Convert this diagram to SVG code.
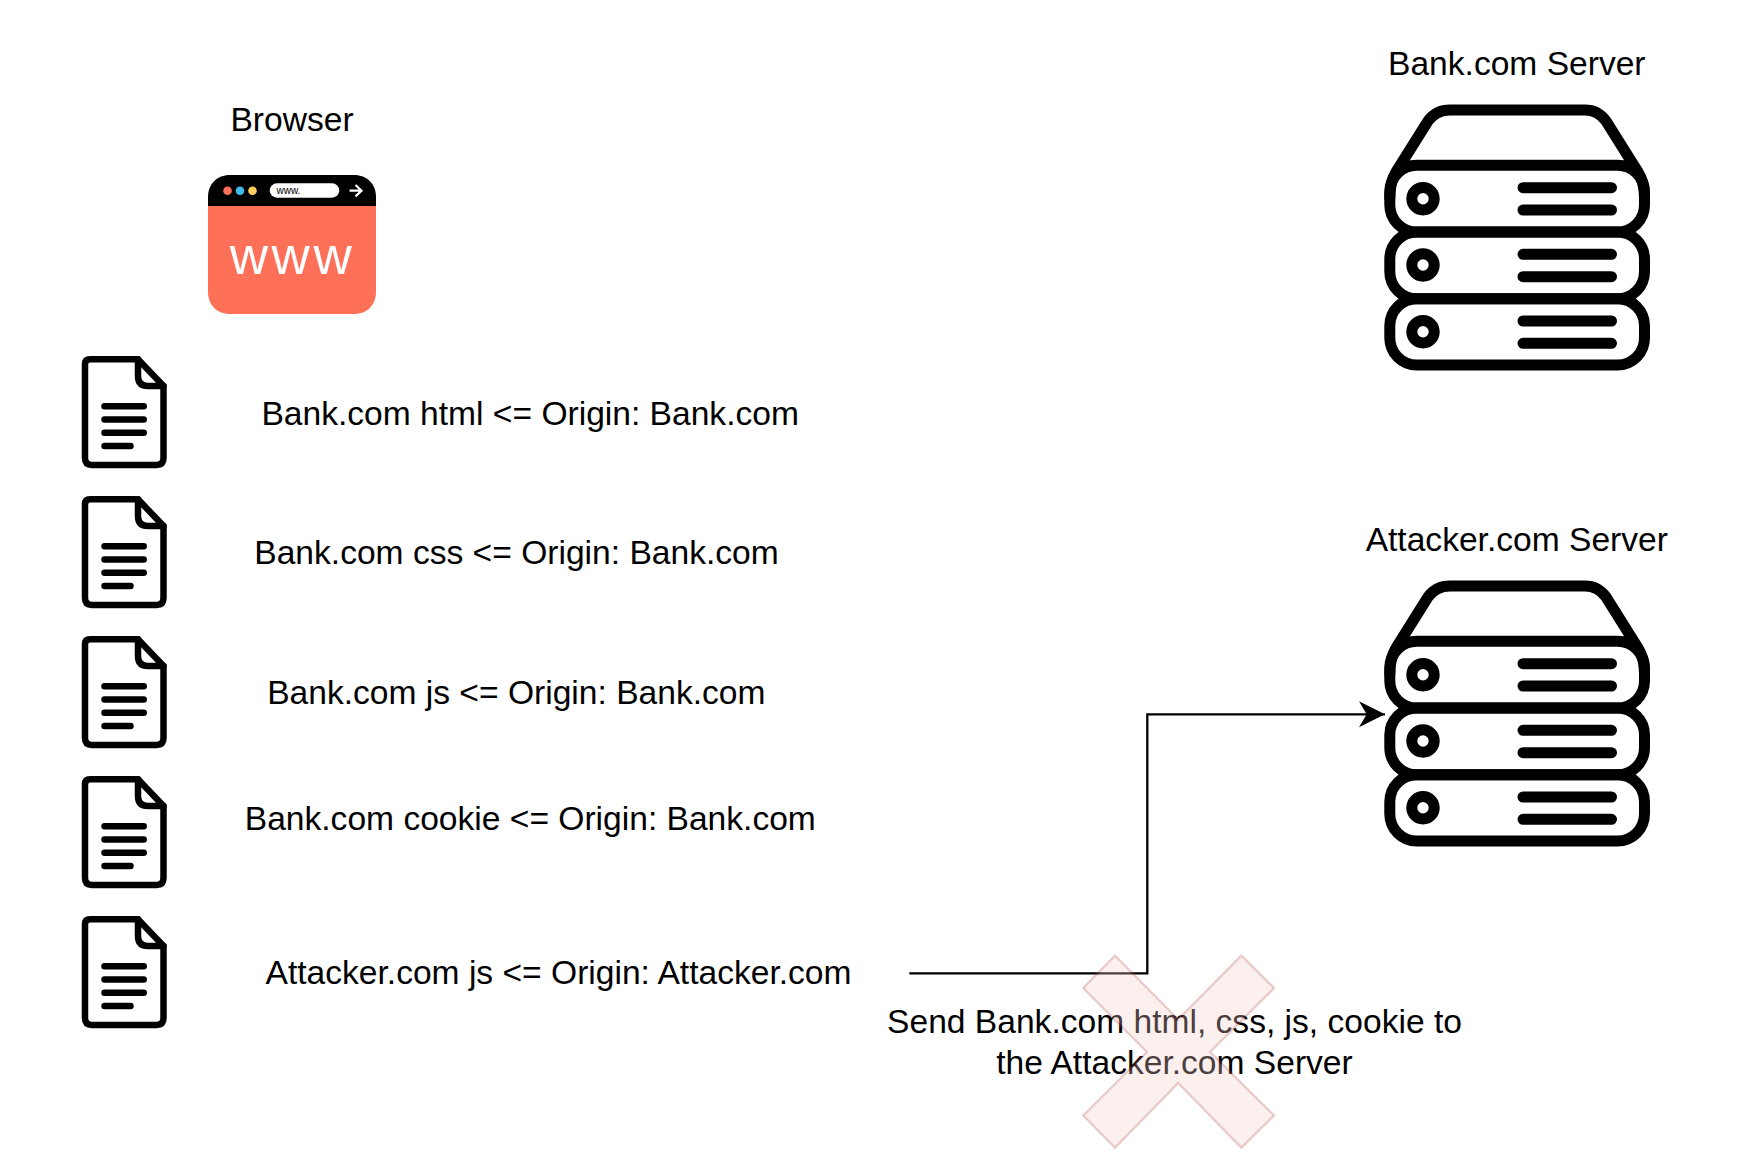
<svg xmlns="http://www.w3.org/2000/svg" width="1754" height="1176" viewBox="0 0 1754 1176">
<style>
text{font-family:"Liberation Sans",Arial,sans-serif;fill:#000}
.l{font-size:33.6px;text-anchor:middle}
.ic{fill:none;stroke:#000;stroke-linecap:round;stroke-linejoin:round}
.conn{fill:none;stroke:#000;stroke-width:2.3}
</style>
<defs>
<marker id="arrow" markerUnits="userSpaceOnUse" markerWidth="30" markerHeight="30" refX="26" refY="13" orient="auto" viewBox="0 0 30 26">
<path d="M0,0 L26,13 L0,26 L7.7,13 Z" fill="#000"/>
</marker>
<g id="doc">
<path class="ic" stroke-width="6.5" d="M90,359.3 H138 L163.5,386 V458 Q163.5,465 156.5,465 H92 Q85,465 85,458 V364.3 Q85,359.3 90,359.3 Z"/>
<path class="ic" stroke-width="6.5" d="M138,359.3 V376 Q138,386 148,386 H163.5"/>
<path class="ic" stroke-width="6.5" d="M104.5,406.3 H143.7 M104.5,419.5 H143.7 M104.5,432.7 H143.7 M104.5,446 H130.5"/>
</g>
<g id="server">
<path class="ic" stroke-width="11" d="M1389.8,198 Q1389.800,182 1396,172 L1428,121 Q1436,110 1450,110 H1585 Q1598,110 1606,121 L1638,172 Q1644.500,182 1644.500,198"/>
<rect class="ic" stroke-width="11" x="1389.8" y="165.3" width="254.7" height="66.7" rx="27"/>
<rect class="ic" stroke-width="11" x="1389.8" y="232" width="254.7" height="66.7" rx="27"/>
<rect class="ic" stroke-width="11" x="1389.8" y="298.7" width="254.7" height="66.3" rx="27"/>
<circle class="ic" stroke-width="11" cx="1423" cy="198.7" r="11.2"/>
<circle class="ic" stroke-width="11" cx="1423" cy="265" r="11.2"/>
<circle class="ic" stroke-width="11" cx="1423" cy="331.7" r="11.2"/>
<path class="ic" stroke-width="11" d="M1523,187.7 H1611.5 M1523,210 H1611.5 M1523,254.3 H1611.5 M1523,276.7 H1611.5 M1523,321 H1611.5 M1523,343.3 H1611.5"/>
</g>
</defs>
<rect width="1754" height="1176" fill="#fff"/>

<g id="connectors">
<path class="conn" d="M909.3,973.3 H1147.3 V714.3 H1385" marker-end="url(#arrow)"/>
</g>

<g id="browser">
<path d="M230,175 H354 C367,175 376,184 376,197 V206 H208 V197 C208,184 217,175 230,175 Z" fill="#000"/>
<path d="M208,206 H376 V292 C376,305 367,314 354,314 H230 C217,314 208,305 208,292 Z" fill="#ff7058"/>
<circle cx="227.5" cy="190.7" r="4.3" fill="#ff7058"/>
<circle cx="240" cy="190.7" r="4.3" fill="#40bce8"/>
<circle cx="252.5" cy="190.7" r="4.3" fill="#ffd05b"/>
<rect x="269.7" y="183.3" width="69.6" height="14.4" rx="7.2" fill="#fff"/>
<text x="276.500" y="194" style="font-size:10px">www.</text>
<path d="M349.500,190.700 H361 M355.500,185 L361.500,190.700 L355.500,196.400" fill="none" stroke="#fff" stroke-width="2.200"/>
<text x="292.500" y="273.700" style="font-size:53px;fill:#fff;text-anchor:middle;letter-spacing:3.500px;font-family:'Liberation Sans',sans-serif">www</text>
<text class="l" x="292" y="131">Browser</text>
</g>

<g id="doc-html"><use href="#doc"/><text class="l" x="530.200" y="425">Bank.com html &lt;= Origin: Bank.com</text></g>
<g id="doc-css"><use href="#doc" y="140"/><text class="l" x="516.500" y="564.300">Bank.com css &lt;= Origin: Bank.com</text></g>
<g id="doc-js"><use href="#doc" y="280"/><text class="l" x="516.300" y="704.200">Bank.com js &lt;= Origin: Bank.com</text></g>
<g id="doc-cookie"><use href="#doc" y="420"/><text class="l" x="530.300" y="830">Bank.com cookie &lt;= Origin: Bank.com</text></g>
<g id="doc-attacker-js"><use href="#doc" y="560"/><text class="l" x="558.500" y="984">Attacker.com js &lt;= Origin: Attacker.com</text></g>

<g id="bank-server"><use href="#server"/><text class="l" x="1516.800" y="74.500">Bank.com Server</text></g>
<g id="attacker-server"><use href="#server" y="476"/><text class="l" x="1516.800" y="550.600">Attacker.com Server</text></g>

<g id="send-label">
<text class="l" x="1174.500" y="1032.500">Send Bank.com html, css, js, cookie to</text>
<text class="l" x="1174.500" y="1073.500">the Attacker.com Server</text>
</g>

<g id="cross">
<polygon points="1115,955.700 1178.200,1019.500 1241.400,955.700 1274,988 1210,1052 1274,1115.500 1241.400,1147.500 1178.200,1083 1115,1147.500 1083.300,1115.500 1147,1052 1083.300,988" fill="#f8cecc" stroke="#b85450" stroke-width="2.300" opacity="0.3"/>
</g>
</svg>
